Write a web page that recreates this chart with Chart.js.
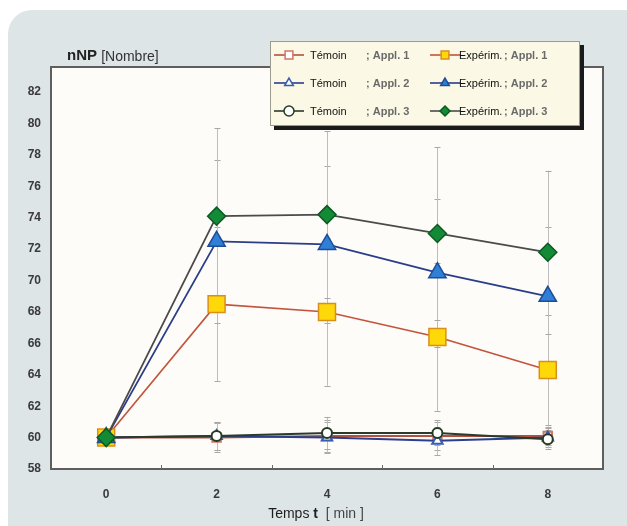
<!DOCTYPE html>
<html>
<head>
<meta charset="utf-8">
<script src="https://cdn.jsdelivr.net/npm/chart.js@4/dist/chart.umd.min.js"></script>
<style>
  html, body { margin: 0; padding: 0; background: #ffffff; }
  #wrap { width: 627px; height: 526px; position: relative; }
</style>
</head>
<body>
<div id="wrap"><canvas id="c" width="627" height="526"></canvas></div>
<script>
// Measurement times [min]
const times = [0, 2, 4, 6, 8];

// Mean nNP counts per group
const temoin1 = [60, 60.0, 60.1, 60.1, 60.1];
const temoin2 = [60, 60.1, 60.0, 59.8, 60.0];
const temoin3 = [60, 60.1, 60.3, 60.3, 59.9];
const experim1 = [60, 68.5, 68.0, 66.4, 64.3];
const experim2 = [60, 72.5, 72.3, 70.5, 69.0];
const experim3 = [60, 74.1, 74.2, 73.0, 71.8];

// Standard deviations (error bars)
const sdTemoin1 = [0, 0.9, 1.0, 0.9, 0.6];
const sdTemoin2 = [0, 0.9, 1.0, 0.9, 0.6];
const sdTemoin3 = [0, 0.9, 1.0, 0.8, 0.6];
const sdExperim1 = [0, 4.9, 4.7, 4.7, 3.5];
const sdExperim2 = [0, 5.2, 5.0, 4.7, 4.4];
const sdExperim3 = [0, 5.6, 5.3, 5.5, 5.2];

// Axis ticks
const xTicks = [0, 2, 4, 6, 8];
const yTicks = [58, 60, 62, 64, 66, 68, 70, 72, 74, 76, 78, 80, 82];

// Labels
const groupNames = ['Témoin', 'Expérim.'];
const applNames = ['; Appl. 1', '; Appl. 2', '; Appl. 3'];
const yTitleMain = 'nNP';
const yTitleUnit = '[Nombre]';

const FONT = '"Liberation Sans", Arial, sans-serif';

function pts(values) {
  return times.map((t, i) => ({ x: t, y: values[i] }));
}

const datasets = [
  { label: groupNames[0] + applNames[0], data: pts(temoin1), sd: sdTemoin1,
    borderColor: '#b4503e', borderWidth: 2,
    pointStyle: 'rect', pointRadius: 6, pointBackgroundColor: '#ffffff',
    pointBorderColor: '#cf7565', pointBorderWidth: 2, order: 6 },
  { label: groupNames[0] + applNames[1], data: pts(temoin2), sd: sdTemoin2,
    borderColor: '#2c3f8e', borderWidth: 2,
    pointStyle: 'triangle', pointRadius: 6, pointBackgroundColor: '#ffffff',
    pointBorderColor: '#3a5cae', pointBorderWidth: 2, order: 5 },
  { label: groupNames[0] + applNames[2], data: pts(temoin3), sd: sdTemoin3,
    borderColor: '#2b3a2b', borderWidth: 2,
    pointStyle: 'circle', pointRadius: 5, pointBackgroundColor: '#ffffff',
    pointBorderColor: '#243c24', pointBorderWidth: 2, order: 4 },
  { label: groupNames[1] + applNames[0], data: pts(experim1), sd: sdExperim1,
    borderColor: '#c4533c', borderWidth: 1.6,
    pointStyle: 'rect', pointRadius: 12, pointBackgroundColor: '#ffd80a',
    pointBorderColor: '#d98f1c', pointBorderWidth: 1.5, order: 3 },
  { label: groupNames[1] + applNames[1], data: pts(experim2), sd: sdExperim2,
    borderColor: '#2a3d8a', borderWidth: 1.8,
    pointStyle: 'triangle', pointRadius: 10, pointBackgroundColor: '#2f7fd6',
    pointBorderColor: '#1d4c98', pointBorderWidth: 1.5, order: 2 },
  { label: groupNames[1] + applNames[2], data: pts(experim3), sd: sdExperim3,
    borderColor: '#4b4b4b', borderWidth: 1.8,
    pointStyle: 'rectRot', pointRadius: 9, pointBackgroundColor: '#138a36',
    pointBorderColor: '#0b5a22', pointBorderWidth: 1.5, order: 1 }
];

function roundRect(ctx, x, y, w, h, r) {
  ctx.beginPath();
  ctx.moveTo(x + r, y);
  ctx.lineTo(x + w - r, y);
  ctx.arcTo(x + w, y, x + w, y + r, r);
  ctx.lineTo(x + w, y + h - r);
  ctx.arcTo(x + w, y + h, x + w - r, y + h, r);
  ctx.lineTo(x + r, y + h);
  ctx.arcTo(x, y + h, x, y + h - r, r);
  ctx.lineTo(x, y + r);
  ctx.arcTo(x, y, x + r, y, r);
  ctx.closePath();
}

// Panel, plot background
const backdrop = {
  id: 'backdrop',
  beforeDraw(chart) {
    const { ctx, chartArea: a } = chart;
    ctx.save();
    ctx.fillStyle = '#ffffff';
    ctx.fillRect(0, 0, chart.width, chart.height);
    roundRect(ctx, 8, 10, 660, 560, 24);
    ctx.fillStyle = '#dde5e7';
    ctx.fill();
    ctx.fillStyle = '#fdfcf8';
    ctx.fillRect(a.left, a.top, a.right - a.left, a.bottom - a.top);
    ctx.restore();
  }
};

// Error bars drawn behind the lines
const errorBars = {
  id: 'errorBars',
  beforeDatasetsDraw(chart) {
    const { ctx, scales: { x, y } } = chart;
    ctx.save();
    ctx.lineWidth = 1;
    chart.data.datasets.forEach(ds => {
      ds.data.forEach((p, i) => {
        const s = ds.sd[i];
        if (!s) return;
        const px = Math.round(x.getPixelForValue(p.x)) + 0.5;
        const top = y.getPixelForValue(p.y + s);
        const bot = y.getPixelForValue(p.y - s);
        ctx.strokeStyle = '#bdbdbd';
        ctx.beginPath();
        ctx.moveTo(px, top);
        ctx.lineTo(px, bot);
        ctx.stroke();
        ctx.strokeStyle = '#a8a8a8';
        ctx.beginPath();
        ctx.moveTo(px - 3, Math.round(top) + 0.5);
        ctx.lineTo(px + 3, Math.round(top) + 0.5);
        ctx.moveTo(px - 3, Math.round(bot) + 0.5);
        ctx.lineTo(px + 3, Math.round(bot) + 0.5);
        ctx.stroke();
      });
    });
    ctx.restore();
  }
};

// Frame, minor ticks, titles and legend
const overlay = {
  id: 'overlay',
  afterDraw(chart) {
    const { ctx, chartArea: a, scales: { x } } = chart;
    ctx.save();

    // plot frame
    ctx.strokeStyle = '#5e5e5e';
    ctx.lineWidth = 2;
    ctx.strokeRect(a.left, a.top, a.right - a.left, a.bottom - a.top);

    // minor ticks on the time axis
    ctx.lineWidth = 1;
    ctx.strokeStyle = '#6a6a6a';
    [1, 3, 5, 7].forEach(v => {
      const px = Math.round(x.getPixelForValue(v)) + 0.5;
      ctx.beginPath();
      ctx.moveTo(px, a.bottom);
      ctx.lineTo(px, a.bottom - 4);
      ctx.stroke();
    });

    // y title
    ctx.textBaseline = 'middle';
    ctx.textAlign = 'left';
    ctx.fillStyle = '#222222';
    ctx.font = 'bold 15px ' + FONT;
    ctx.fillText(yTitleMain, 67, 56);
    const w1 = ctx.measureText(yTitleMain + ' ').width;
    ctx.font = '14px ' + FONT;
    ctx.fillStyle = '#333333';
    ctx.fillText(yTitleUnit, 67 + w1, 57);

    // x title: "Temps t [ min ]"
    const parts = [
      { t: 'Temps ', f: '14px ' + FONT, c: '#1e1e1e' },
      { t: 't', f: 'bold 14px ' + FONT, c: '#1e1e1e' },
      { t: '  [ min ]', f: '14px ' + FONT, c: '#444444' }
    ];
    let total = 0;
    parts.forEach(p => { ctx.font = p.f; p.w = ctx.measureText(p.t).width; total += p.w; });
    let cx = 316 - total / 2;
    parts.forEach(p => {
      ctx.font = p.f; ctx.fillStyle = p.c;
      ctx.fillText(p.t, cx, 514);
      cx += p.w;
    });

    // legend box with drop shadow
    const L = { x: 270, y: 41, w: 310, h: 85 };
    ctx.fillStyle = '#1a1a1a';
    ctx.fillRect(L.x + 4, L.y + 4, L.w, L.h);
    ctx.fillStyle = '#fbf9e6';
    ctx.fillRect(L.x, L.y, L.w, L.h);
    ctx.strokeStyle = '#9a9a90';
    ctx.lineWidth = 1;
    ctx.strokeRect(L.x + 0.5, L.y + 0.5, L.w - 1, L.h - 1);

    const rowY = [55, 83, 111];
    const cols = [
      { lineX: 274, markX: 289, nameX: 310, applX: 366 },
      { lineX: 430, markX: 445, nameX: 459, applX: 504 }
    ];
    const dsList = chart.data.datasets;
    for (let c = 0; c < 2; c++) {
      for (let r = 0; r < 3; r++) {
        const ds = dsList[c * 3 + r];
        const col = cols[c];
        const yy = rowY[r];
        ctx.strokeStyle = ds.borderColor;
        ctx.lineWidth = 1.6;
        ctx.beginPath();
        ctx.moveTo(col.lineX, yy);
        ctx.lineTo(col.lineX + 30, yy);
        ctx.stroke();
        ctx.fillStyle = ds.pointBackgroundColor;
        ctx.strokeStyle = ds.pointBorderColor;
        ctx.lineWidth = 1.5;
        Chart.helpers.drawPoint(ctx, {
          pointStyle: ds.pointStyle,
          radius: ds.pointStyle === 'rect' ? 5.5 : 5,
          borderWidth: 1.5,
          rotation: 0
        }, col.markX, yy);
        ctx.font = '11px ' + FONT;
        ctx.fillStyle = '#111111';
        ctx.textAlign = 'left';
        ctx.fillText(groupNames[c], col.nameX, yy + 1);
        ctx.font = 'bold 11px ' + FONT;
        ctx.fillStyle = '#6a6a6a';
        ctx.fillText(applNames[r], col.applX, yy + 1);
      }
    }
    ctx.restore();
  }
};

new Chart(document.getElementById('c'), {
  type: 'line',
  data: { datasets },
  options: {
    responsive: false,
    animation: false,
    devicePixelRatio: 1,
    layout: { padding: { left: 0, top: 67, right: 24, bottom: 0 } },
    elements: { line: { tension: 0 } },
    plugins: { legend: { display: false }, tooltip: { enabled: false }, title: { display: false } },
    scales: {
      x: {
        type: 'linear', min: -1, max: 9,
        afterBuildTicks: s => { s.ticks = xTicks.map(v => ({ value: v })); },
        afterFit: s => { s.height = 57; },
        grid: { display: false, drawTicks: false },
        border: { display: false },
        ticks: { padding: 18, color: '#3a3a3a', font: { family: FONT, size: 12, weight: 'bold' } }
      },
      y: {
        type: 'linear', min: 58, max: 83.6,
        afterBuildTicks: s => { s.ticks = yTicks.map(v => ({ value: v })); },
        afterFit: s => { s.width = 51; },
        grid: { display: false, drawTicks: false },
        border: { display: false },
        ticks: { padding: 10, color: '#3a3a3a', font: { family: FONT, size: 12, weight: 'bold' } }
      }
    }
  },
  plugins: [backdrop, errorBars, overlay]
});
</script>
</body>
</html>
